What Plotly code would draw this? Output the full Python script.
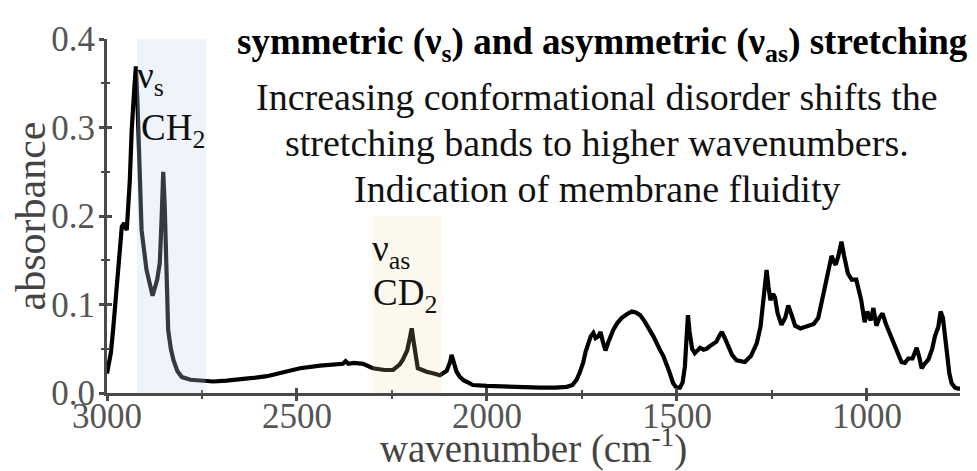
import plotly.graph_objects as go

# ---------------- data ----------------
wavenumber = [3000, 2990, 2984, 2975, 2971, 2961, 2955, 2948, 2940, 2935, 2928, 2924, 2920, 2915, 2909,
              2896, 2888, 2880, 2868, 2861, 2856, 2852, 2848, 2845, 2839, 2832, 2825, 2815, 2803, 2780,
              2755, 2720, 2685, 2650, 2616, 2579, 2527, 2492, 2439, 2413, 2379, 2372, 2365, 2350, 2326,
              2300, 2270, 2247, 2230, 2221, 2210, 2203, 2198, 2193, 2187, 2182, 2170, 2159, 2140, 2124,
              2106, 2097, 2093, 2088, 2080, 2071, 2060, 2050, 2037, 2000, 1948, 1900, 1860, 1820, 1790,
              1775, 1764, 1755, 1747, 1740, 1734, 1727, 1720, 1714, 1707, 1701, 1695, 1688, 1680, 1668,
              1657, 1645, 1632, 1619, 1608, 1597, 1585, 1571, 1562, 1545, 1536, 1520, 1510, 1501, 1492,
              1485, 1479, 1475, 1471, 1467, 1460, 1453, 1446, 1439, 1430, 1422, 1410, 1396, 1388, 1382,
              1375, 1365, 1355, 1343, 1321, 1305, 1290, 1280, 1273, 1268, 1264, 1259, 1254, 1247, 1242,
              1235, 1225, 1215, 1207, 1198, 1189, 1175, 1159, 1140, 1128, 1110, 1093, 1087, 1082, 1075,
              1067, 1060, 1050, 1040, 1028, 1015, 1006, 999, 990, 983, 975, 967, 959, 950, 940,
              925, 909, 900, 891, 880, 869, 862, 856, 848, 838, 828, 821, 812, 806, 800,
              790, 783, 777, 768, 760, 755]
absorbance = [0.022, 0.045, 0.071, 0.120, 0.147, 0.188, 0.192, 0.184, 0.240, 0.297, 0.345, 0.369, 0.330, 0.260, 0.184,
              0.139, 0.122, 0.110, 0.128, 0.147, 0.200, 0.250, 0.210, 0.147, 0.071, 0.050, 0.037, 0.025, 0.018, 0.015,
              0.014, 0.013, 0.014, 0.015, 0.017, 0.019, 0.024, 0.028, 0.031, 0.032, 0.033, 0.036, 0.033, 0.034, 0.033,
              0.028, 0.026, 0.026, 0.032, 0.038, 0.048, 0.062, 0.073, 0.058, 0.038, 0.028, 0.026, 0.024, 0.022, 0.020,
              0.025, 0.035, 0.043, 0.035, 0.024, 0.018, 0.014, 0.012, 0.009, 0.008, 0.007, 0.006, 0.006, 0.006, 0.007,
              0.009, 0.015, 0.024, 0.034, 0.047, 0.056, 0.064, 0.068, 0.062, 0.064, 0.069, 0.058, 0.048, 0.058, 0.071,
              0.079, 0.085, 0.089, 0.092, 0.091, 0.088, 0.081, 0.071, 0.064, 0.049, 0.042, 0.024, 0.011, 0.006, 0.006,
              0.012, 0.030, 0.060, 0.088, 0.070, 0.050, 0.045, 0.048, 0.051, 0.049, 0.050, 0.054, 0.058, 0.065, 0.069,
              0.063, 0.052, 0.043, 0.037, 0.035, 0.042, 0.056, 0.075, 0.101, 0.125, 0.139, 0.120, 0.105, 0.112, 0.108,
              0.090, 0.077, 0.085, 0.099, 0.088, 0.076, 0.073, 0.075, 0.078, 0.085, 0.120, 0.155, 0.148, 0.145, 0.155,
              0.171, 0.155, 0.135, 0.128, 0.128, 0.105, 0.080, 0.092, 0.082, 0.096, 0.076, 0.085, 0.090, 0.078, 0.068,
              0.050, 0.035, 0.034, 0.039, 0.039, 0.051, 0.040, 0.028, 0.033, 0.038, 0.050, 0.064, 0.075, 0.092, 0.085,
              0.045, 0.022, 0.011, 0.006, 0.005, 0.005]

x_ticks = [3000, 2500, 2000, 1500, 1000]
x_tick_labels = ["3000", "2500", "2000", "1500", "1000"]
x_minor = [2750, 2250, 1750, 1250]
y_ticks = [0.0, 0.1, 0.2, 0.3, 0.4]
y_tick_labels = ["0.0", "0.1", "0.2", "0.3", "0.4"]
y_minor = [0.05, 0.15, 0.25, 0.35]
x_range = [3000, 755]
y_range = [0, 0.4]

# highlighted bands: (from, to, top absorbance)
band_ch2 = [2921, 2740, 0.4]
band_cd2 = [2303, 2118, 0.2]

heading = "symmetric (ν<sub>s</sub>) and asymmetric (ν<sub>as</sub>) stretching"
note_lines = ["Increasing conformational disorder shifts the",
              "stretching bands to higher wavenumbers.",
              "Indication of membrane fluidity"]

# ---------------- figure ----------------
FONT = "Liberation Serif"
AXC = "#4a4a4a"
fig = go.Figure()
fig.add_trace(go.Scatter(x=wavenumber, y=absorbance, mode="lines",
                         line=dict(color="#000000", width=4.2), hoverinfo="skip",
                         showlegend=False))
# invisible trace to carry the overlay axes (inward half of the crossing ticks)
fig.add_trace(go.Scatter(x=wavenumber, y=absorbance, mode="lines", xaxis="x2", yaxis="y2",
                         line=dict(color="rgba(0,0,0,0)", width=0), hoverinfo="skip",
                         showlegend=False))

tickfont = dict(family=FONT, size=35, color="#555555")
# page body has an 8px margin, so the figure is made 8px smaller than the window
fig.update_layout(
    width=969, height=463,
    margin=dict(l=99, r=17, t=31, b=78, autoexpand=False),
    paper_bgcolor="white", plot_bgcolor="white",
    font=dict(family=FONT),
    xaxis=dict(range=x_range, tickvals=x_ticks, ticktext=x_tick_labels, showgrid=False, zeroline=False,
               automargin=False, ticklabelstandoff=-15,
               showline=True, linecolor=AXC, linewidth=3, ticks="outside", ticklen=5, tickwidth=3,
               tickcolor=AXC, tickfont=tickfont,
               minor=dict(tickvals=x_minor, ticks="outside", ticklen=3, tickwidth=2, tickcolor=AXC),
               title=dict(text="wavenumber (cm<sup>-1</sup>)", font=dict(family=FONT, size=39, color="#444444"), standoff=6)),
    yaxis=dict(range=y_range, tickvals=y_ticks, ticktext=y_tick_labels, showgrid=False, zeroline=False,
               automargin=False, ticklabelstandoff=-3,
               showline=True, linecolor=AXC, linewidth=3, ticks="outside", ticklen=5, tickwidth=3,
               tickcolor=AXC, tickfont=tickfont,
               minor=dict(tickvals=y_minor, ticks="outside", ticklen=3, tickwidth=2, tickcolor=AXC),
               title=dict(text="absorbance", font=dict(family=FONT, size=42, color="#444444"), standoff=19)),
    xaxis2=dict(overlaying="x", anchor="y", range=x_range, tickvals=x_ticks, showticklabels=False,
                automargin=False,
                showgrid=False, zeroline=False, showline=False, ticks="inside", ticklen=5, tickwidth=3,
                tickcolor=AXC,
                minor=dict(tickvals=x_minor, ticks="inside", ticklen=3, tickwidth=2, tickcolor=AXC)),
    yaxis2=dict(overlaying="y", anchor="x", range=y_range, tickvals=y_ticks, showticklabels=False,
                automargin=False,
                showgrid=False, zeroline=False, showline=False, ticks="inside", ticklen=5, tickwidth=3,
                tickcolor=AXC,
                minor=dict(tickvals=y_minor, ticks="inside", ticklen=3, tickwidth=2, tickcolor=AXC)),
)

fig.add_shape(type="rect", xref="x", yref="y", x0=band_ch2[0], x1=band_ch2[1], y0=0, y1=band_ch2[2],
              fillcolor="rgba(191,214,236,0.27)", line=dict(width=0), layer="above")
fig.add_shape(type="rect", xref="x", yref="y", x0=band_cd2[0], x1=band_cd2[1], y0=0, y1=band_cd2[2],
              fillcolor="rgba(244,217,161,0.18)", line=dict(width=0), layer="above")

# band labels
lbl = dict(family=FONT, size=37, color="#111111")
fig.add_annotation(x=band_ch2[0], y=0.355, xref="x", yref="y", text="ν<sub>s</sub>", showarrow=False,
                   xanchor="left", yanchor="middle", font=lbl, xshift=-2)
fig.add_annotation(x=band_ch2[0], y=0.297, xref="x", yref="y", text="CH<sub>2</sub>", showarrow=False,
                   xanchor="left", yanchor="middle", font=lbl, xshift=2)
fig.add_annotation(x=band_cd2[0], y=0.160, xref="x", yref="y", text="ν<sub>as</sub>", showarrow=False,
                   xanchor="left", yanchor="middle", font=lbl, xshift=-2)
fig.add_annotation(x=band_cd2[0], y=0.110, xref="x", yref="y", text="CD<sub>2</sub>", showarrow=False,
                   xanchor="left", yanchor="middle", font=lbl, xshift=-1)

# heading and explanatory note
fig.add_annotation(x=(602 - 107) / 853, y=(393 - 45) / 354, xref="paper", yref="paper", text="<b>" + heading + "</b>",
                   showarrow=False, xanchor="center", yanchor="middle",
                   font=dict(family=FONT, size=37, color="#000000"))
for i, line in enumerate(note_lines):
    fig.add_annotation(x=(597 - 107) / 853, y=(393 - (97 + 46 * i)) / 354, xref="paper", yref="paper", text=line,
                       showarrow=False, xanchor="center", yanchor="middle",
                       font=dict(family=FONT, size=38, color="#111111"))

fig.write_html("out.html")
